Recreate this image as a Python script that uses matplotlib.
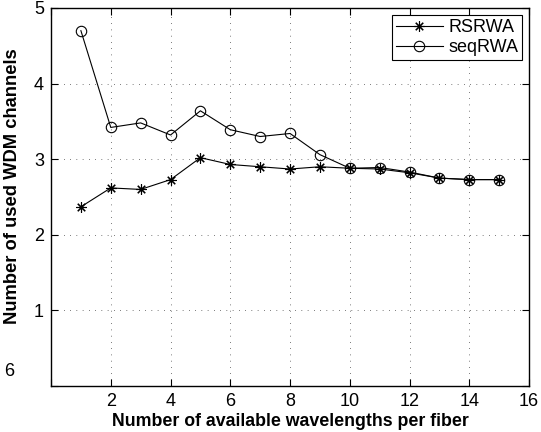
import matplotlib
matplotlib.use('Agg')
import matplotlib.pyplot as plt

plt.rcParams['font.family'] = ['Liberation Sans', 'DejaVu Sans']

# datos
wavelengths = [1, 2, 3, 4, 5, 6, 7, 8, 9, 10, 11, 12, 13, 14, 15]
rsrwa = [2.37, 2.62, 2.60, 2.73, 3.02, 2.93, 2.90, 2.87, 2.90, 2.88, 2.87, 2.82, 2.75, 2.73, 2.73]
seqrwa = [4.70, 3.42, 3.48, 3.32, 3.64, 3.39, 3.30, 3.34, 3.06, 2.88, 2.89, 2.83, 2.75, 2.73, 2.73]

x_ticks = [0, 2, 4, 6, 8, 10, 12, 14, 16]
x_labels = ['', '2', '4', '6', '8', '10', '12', '14', '16']
y_ticks = [0, 1, 2, 3, 4, 5]
y_labels = ['', '1', '2', '3', '4', '5']

fig = plt.figure(figsize=(5.41, 4.32), dpi=100)
ax = fig.add_axes([0.0943, 0.1065, 0.8837, 0.875])

ax.plot(wavelengths, rsrwa, '-', marker=(8, 2, 0), color='black', linewidth=0.8,
        markersize=7.5, markeredgewidth=0.8, label='RSRWA')
ax.plot(wavelengths, seqrwa, '-o', color='black', linewidth=0.8, markersize=7.5,
        markerfacecolor='none', markeredgewidth=0.8, label='seqRWA')

ax.set_xlim(0, 16)
ax.set_ylim(0, 5)
ax.set_xticks(x_ticks)
ax.set_xticklabels(x_labels)
ax.set_yticks(y_ticks)
ax.set_yticklabels(y_labels)
ax.tick_params(direction='in', top=True, right=True, labelsize=13, length=5, width=0.8, pad=5)
ax.grid(True, color='black', linestyle=(0, (1, 8)), linewidth=0.5)
for s in ax.spines.values():
    s.set_linewidth(1.0)

ax.set_xlabel('Number of available wavelengths per fiber', fontsize=12.8, fontweight='bold', labelpad=2)
ax.set_ylabel('Number of used WDM channels', fontsize=13.2, fontweight='bold')
ax.yaxis.set_label_coords(-0.062, 0.53)

leg = ax.legend(loc='upper right', fontsize=13, fancybox=False, edgecolor='black',
                framealpha=1, handlelength=2.6, handletextpad=0.3, borderpad=0.2,
                labelspacing=0.2, borderaxespad=0.4)
leg.get_frame().set_linewidth(0.8)

fig.text(0.0166, 0.139, '6', fontsize=13, ha='center', va='center')

fig.savefig('out.png', dpi=100)
